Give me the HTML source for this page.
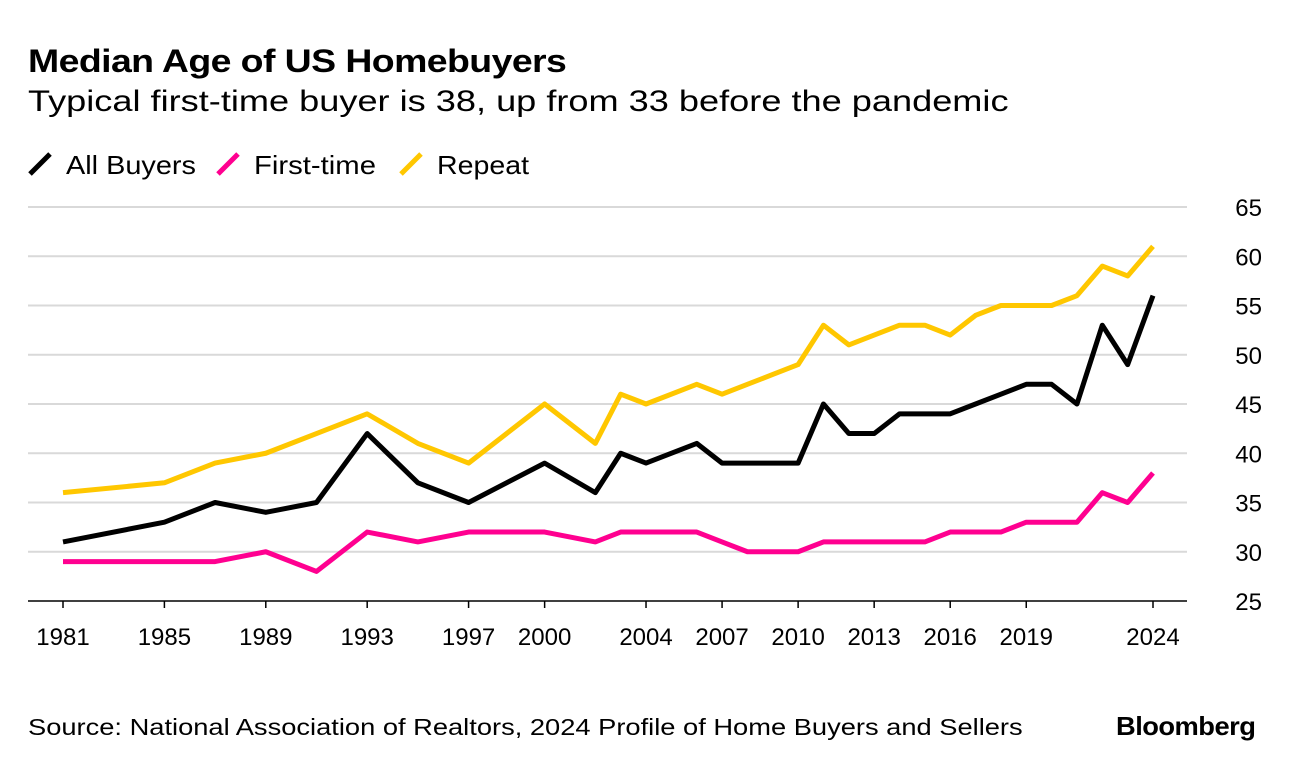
<!DOCTYPE html>
<html><head><meta charset="utf-8"><style>
body{margin:0;background:#fff;font-family:"Liberation Sans",Arial,sans-serif;}
#wrap{position:relative;width:1296px;height:770px;overflow:hidden}
.t{position:absolute;white-space:nowrap;color:#000;transform-origin:0 0}
</style></head><body><div id="wrap">
<div class="t" style="left:28px;top:43px;font-size:32px;font-weight:bold;letter-spacing:-0.5px;transform:scaleX(1.17)">Median Age of US Homebuyers</div>
<div class="t" style="left:28px;top:85px;font-size:30px;transform:scaleX(1.205)">Typical first-time buyer is 38, up from 33 before the pandemic</div>
<div class="t" style="left:28px;top:714px;font-size:23px;transform:scaleX(1.186)">Source: National Association of Realtors, 2024 Profile of Home Buyers and Sellers</div>
<div class="t" style="left:1116px;top:711px;font-size:26px;font-weight:bold;letter-spacing:-0.5px;transform:scaleX(1.05)">Bloomberg</div>
<svg id="svg" width="1296" height="770" style="position:absolute;left:0;top:0"></svg>
</div>
<script>
const years=[1981,1985,1987,1989,1991,1993,1995,1997,2000,2002,2003,2004,2006,2007,2008,2009,2010,2011,2012,2013,2014,2015,2016,2017,2018,2019,2020,2021,2022,2023,2024];
const allBuyers=[31,33,35,34,35,42,37,35,39,36,40,39,41,39,39,39,39,45,42,42,44,44,44,45,46,47,47,45,53,49,56];
const firstTime=[29,29,29,30,28,32,31,32,32,31,32,32,32,31,30,30,30,31,31,31,31,31,32,32,32,33,33,33,36,35,38];
const repeat=[36,37,39,40,42,44,41,39,45,41,46,45,47,46,47,48,49,53,51,52,53,53,52,54,55,55,55,56,59,58,61];
const yTicks=[25,30,35,40,45,50,55,60,65];
const xTicks=[1981,1985,1989,1993,1997,2000,2004,2007,2010,2013,2016,2019,2024];
const legendNames=["All Buyers","First-time","Repeat"];
const colors=["#000000","#ff0090","#ffc700"];
const NS="http://www.w3.org/2000/svg";
const svg=document.getElementById('svg');
const x=v=>63+(v-1981)*(1090/43);
const y=v=>601-(v-25)*(394/40);
function mk(t,a){const e=document.createElementNS(NS,t);for(const k in a)e.setAttribute(k,a[k]);svg.appendChild(e);return e;}
const F='Liberation Sans, Arial, sans-serif';
yTicks.forEach(v=>{
 const l=mk('line',{x1:28,x2:1187,y1:y(v),y2:y(v),stroke:v===25?'#000':'#d9d9d9','stroke-width':v===25?1.5:2});
 
 
 const t=mk('text',{x:1262,y:y(v)+9,'text-anchor':'end','font-size':24,'font-family':F});
 t.textContent=v;
 
 
});
xTicks.forEach(v=>{
 const l=mk('line',{x1:x(v),x2:x(v),y1:601,y2:608,stroke:'#000','stroke-width':1.5});
 
 
 const t=mk('text',{x:x(v),y:645,'text-anchor':'middle','font-size':24,'font-family':F});
 t.textContent=v;
 
 
});
[allBuyers,firstTime,repeat].forEach((s,i)=>{
 const p=mk('polyline',{points:s.map((v,j)=>x(years[j])+','+y(v)).join(' '),fill:'none',stroke:colors[i],'stroke-width':5,'stroke-linejoin':'round'});
 
 
});
const lx=[30,218,401];
const lw=[130,122,92];
legendNames.forEach((n,i)=>{
 const l=mk('line',{x1:lx[i],y1:174,x2:lx[i]+20,y2:154,stroke:colors[i],'stroke-width':5});
 
 
 const t=mk('text',{x:lx[i]+36,y:174,'font-size':26,'font-family':F,textLength:lw[i],lengthAdjust:'spacingAndGlyphs'});
 t.textContent=n;
 
 
});
</script></body></html>
